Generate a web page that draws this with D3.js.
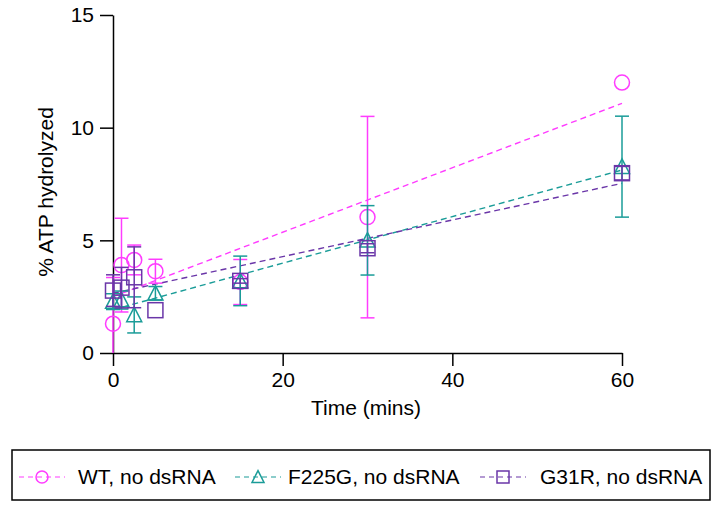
<!DOCTYPE html>
<meta charset="utf-8">
<style>
    body { margin: 0; background: #fff; }
    text { font-family: "Liberation Sans", Arial, sans-serif; fill: #000; }
    .axis path, .axis line { stroke: #000; stroke-width: 1.5px; }
    .axis text { font-size: 21px; }
</style>
<svg width="714" height="506"></svg>
<script src="https://d3js.org/d3.v7.min.js"></script>
<script>
    // sample times (mins)
    var times = [0, 1, 2.5, 5, 15, 30, 60];

    var wtMean = [1.3, 3.9, 4.13, 3.63, 3.15, 6.03, 12.0];
    var wtErr = [2.05, 2.08, 0.66, 0.53, 1.0, 4.47, 0];
    var f225gMean = [2.28, 2.35, 1.69, 2.65, 3.2, 5.0, 8.27];
    var f225gErr = [0.35, 0.4, 0.8, 0.3, 1.1, 1.54, 2.24];
    var g31rMean = [2.77, 2.9, 3.36, 1.9, 3.2, 4.65, 7.98];
    var g31rErr = [0.7, 0.9, 1.35, 0, 0.1, 0.2, 0.3];

    // linear fit lines, value at t = 0 and t = 60
    var fitTimes = [0, 60];
    var wtFit = [2.5, 11.08];
    var f225gFit = [1.92, 8.12];
    var g31rFit = [2.65, 7.53];

    var xTicks = [0, 20, 40, 60];
    var yTicks = [0, 5, 10, 15];

    var series = [
        {name: "WT, no dsRNA", mean: wtMean, err: wtErr, fit: wtFit, color: "#ff3cff", shape: "circle"},
        {name: "F225G, no dsRNA", mean: f225gMean, err: f225gErr, fit: f225gFit, color: "#1a9c98", shape: "triangle"},
        {name: "G31R, no dsRNA", mean: g31rMean, err: g31rErr, fit: g31rFit, color: "#6a36a8", shape: "square"}
    ];

    var svg = d3.select("svg");

    var x = d3.scaleLinear().domain([0, 60]).range([113, 622]);
    var y = d3.scaleLinear().domain([0, 15]).range([353, 15]);

    svg.append("defs").append("clipPath").attr("id", "plotclip")
        .append("rect").attr("x", 0).attr("y", 0).attr("width", 714).attr("height", y(0));

    svg.append("g")
        .attr("class", "axis")
        .attr("transform", "translate(0," + y(0) + ")")
        .call(d3.axisBottom(x).tickValues(xTicks).tickSize(13).tickSizeOuter(0).tickPadding(6))
        .call(g => g.selectAll("text").attr("font-family", null).attr("font-size", null));

    svg.append("g")
        .attr("class", "axis")
        .attr("transform", "translate(" + x(0) + ",0)")
        .call(d3.axisLeft(y).tickValues(yTicks).tickSize(13).tickSizeOuter(0).tickPadding(6))
        .call(g => g.selectAll("text").attr("font-family", null).attr("font-size", null));

    svg.append("text")
        .attr("x", 366).attr("y", 415)
        .attr("text-anchor", "middle")
        .attr("font-size", 21)
        .text("Time (mins)");

    svg.append("text")
        .attr("transform", "translate(53,192) rotate(-90)")
        .attr("text-anchor", "middle")
        .attr("font-size", 21)
        .text("% ATP hydrolyzed");

    function marker(sel, shape, size) {
        if (shape === "circle") {
            sel.append("circle").attr("r", size / 2);
        } else if (shape === "square") {
            sel.append("rect").attr("x", -size / 2).attr("y", -size / 2)
                .attr("width", size).attr("height", size);
        } else {
            var h = size * 0.9;
            sel.append("path").attr("d", "M0," + (-h / 2 - 1) + "L" + (size / 2) + "," + (h / 2) +
                "L" + (-size / 2) + "," + (h / 2) + "Z");
        }
    }

    var plot = svg.append("g").attr("clip-path", "url(#plotclip)");

    series.forEach(function (s) {
        plot.append("line")
            .attr("x1", x(fitTimes[0])).attr("y1", y(s.fit[0]))
            .attr("x2", x(fitTimes[1])).attr("y2", y(s.fit[1]))
            .attr("stroke", s.color)
            .attr("stroke-width", 1.4)
            .attr("stroke-dasharray", "6,4");
    });

    series.forEach(function (s) {
        var pts = times.map((t, i) => ({t: t, m: s.mean[i], e: s.err[i]}));
        var eb = plot.append("g")
            .attr("stroke", s.color)
            .attr("stroke-width", 1.5)
            .selectAll("g")
            .data(pts.filter(d => d.e > 0))
            .enter().append("g");
        eb.append("line")
            .attr("x1", d => x(d.t)).attr("x2", d => x(d.t))
            .attr("y1", d => y(d.m - d.e)).attr("y2", d => y(d.m + d.e));
        eb.append("line")
            .attr("x1", d => x(d.t) - 7).attr("x2", d => x(d.t) + 7)
            .attr("y1", d => y(d.m + d.e)).attr("y2", d => y(d.m + d.e));
        eb.append("line")
            .attr("x1", d => x(d.t) - 7).attr("x2", d => x(d.t) + 7)
            .attr("y1", d => y(d.m - d.e)).attr("y2", d => y(d.m - d.e));

        plot.append("g")
            .attr("stroke", s.color)
            .attr("stroke-width", 1.5)
            .attr("fill", "none")
            .selectAll("g")
            .data(pts)
            .enter().append("g")
            .attr("transform", d => "translate(" + x(d.t) + "," + y(d.m) + ")")
            .each(function () { marker(d3.select(this), s.shape, 15); });
    });

    // legend
    var legendX = [42, 258, 503];
    var legendTextX = [78, 288, 540];
    svg.append("rect")
        .attr("x", 12).attr("y", 450).attr("width", 698).attr("height", 50)
        .attr("fill", "none").attr("stroke", "#000").attr("stroke-width", 1.5);

    series.forEach(function (s, i) {
        var g = svg.append("g").attr("transform", "translate(" + legendX[i] + ",477)");
        g.append("line")
            .attr("x1", -23).attr("x2", 23)
            .attr("stroke", s.color).attr("stroke-width", 1.2)
            .attr("stroke-dasharray", "5,4");
        var m = g.append("g").attr("stroke", s.color).attr("stroke-width", 1.5).attr("fill", "none");
        marker(m, s.shape, 12);
        svg.append("text")
            .attr("x", legendTextX[i]).attr("y", 484)
            .attr("font-size", 21)
            .text(s.name);
    });
</script>
